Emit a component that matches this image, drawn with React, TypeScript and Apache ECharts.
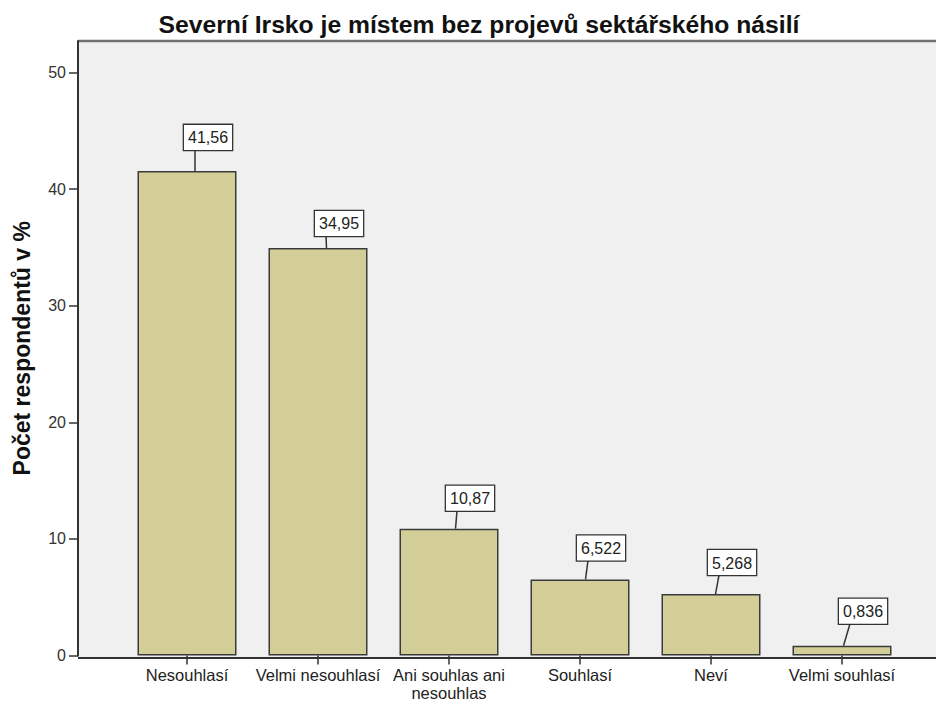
import React, { useEffect, useRef } from "react";
import * as echarts from "echarts";

const categories = [
  "Nesouhlasí",
  "Velmi nesouhlasí",
  "Ani souhlas ani\nnesouhlas",
  "Souhlasí",
  "Neví",
  "Velmi souhlasí",
];
const values = [41.56, 34.95, 10.87, 6.522, 5.268, 0.836];
const yTicks = [0, 10, 20, 30, 40, 50];

// label callout layout (pixels, relative to each bar's top centre)
const labelGap = [21, 12, 18, 19, 19, 22];
const lineFootShift = [8, 8.5, 6.5, 5.5, 4.5, 1.5];
const lineHeadShift = 8;
const boxShift = 21;

const FONT = '"Liberation Sans", Arial, Helvetica, sans-serif';
const fmt = (v: number) => String(v).replace(".", ",");

export default function App() {
  const ref = useRef<HTMLDivElement>(null);
  useEffect(() => {
    if (!ref.current) return;
    const chart = echarts.init(ref.current, undefined, { renderer: "svg" });
    chart.setOption({
      animation: false,
      backgroundColor: "#ffffff",
      textStyle: { fontFamily: FONT },
      title: {
        text: "Severní Irsko je místem bez projevů sektářského násilí",
        left: 474,
        top: 7,
        textAlign: "center",
        textStyle: { fontSize: 24.7, fontWeight: "bold", color: "#111", fontFamily: FONT },
      },
      graphic: [
        {
          type: "rect",
          z: -1,
          shape: { x: 78, y: 41, width: 858, height: 617 },
          style: { fill: "#f0f0f0" },
        },
        {
          type: "line",
          shape: { x1: 78, y1: 41, x2: 936, y2: 41 },
          style: { stroke: "#707070", lineWidth: 2.5 },
        },
        {
          type: "line",
          shape: { x1: 78, y1: 658, x2: 936, y2: 658 },
          style: { stroke: "#333", lineWidth: 2 },
        },
      ],
      grid: { left: 121.5, right: 28.5, top: 41, bottom: 44, containLabel: false },
      xAxis: {
        type: "category",
        data: categories,
        axisLine: { show: false },
        axisTick: { show: true, alignWithLabel: true, length: 9, lineStyle: { color: "#333", width: 1.5 } },
        axisLabel: { interval: 0, fontSize: 16.5, color: "#222", margin: 10.5, lineHeight: 18, fontFamily: FONT },
        splitLine: { show: false },
      },
      yAxis: {
        type: "value",
        min: 0,
        max: 52.7,
        interval: 10,
        offset: 43.5,
        name: "Počet respondentů v %",
        nameLocation: "middle",
        nameGap: 45,
        nameTextStyle: { fontSize: 23, fontWeight: "bold", color: "#111", fontFamily: FONT },
        axisLine: { show: true, lineStyle: { color: "#333", width: 2 } },
        axisTick: { show: true, length: 9, customValues: yTicks, lineStyle: { color: "#333", width: 1.5 } },
        axisLabel: {
          customValues: yTicks,
          fontSize: 16,
          color: "#333",
          margin: 12,
          fontFamily: FONT,
          formatter: (v: number) => (v % 10 === 0 ? String(v) : ""),
        },
        splitLine: { show: false },
      },
      series: [
        {
          type: "bar",
          data: values,
          barWidth: 99,
          itemStyle: { color: "#d3ce98", borderColor: "#3a3a3a", borderWidth: 1.5 },
        },
        {
          type: "custom",
          clip: false,
          z: 5,
          data: values.map((v, i) => [i, v]),
          renderItem: (params: any, api: any) => {
            const i = api.value(0);
            const v = api.value(1);
            const [cx, ty] = api.coord([i, v]);
            const by = ty - labelGap[i];
            return {
              type: "group",
              children: [
                {
                  type: "line",
                  shape: { x1: cx + lineFootShift[i], y1: ty, x2: cx + lineHeadShift, y2: by },
                  style: { stroke: "#333", lineWidth: 1.5 },
                },
                {
                  type: "text",
                  x: cx + boxShift,
                  y: by,
                  style: {
                    text: fmt(v),
                    fill: "#222",
                    font: `16px ${FONT}`,
                    align: "center",
                    verticalAlign: "bottom",
                    textAlign: "center",
                    textVerticalAlign: "bottom",
                    backgroundColor: "#ffffff",
                    borderColor: "#333",
                    borderWidth: 1.3,
                    padding: [5, 4, 4, 4],
                  },
                },
              ],
            };
          },
        },
      ],
    });
    return () => chart.dispose();
  }, []);
  return (
    <div
      ref={ref}
      style={{ position: "fixed", left: 0, top: 0, width: 936, height: 702, overflow: "hidden" }}
    />
  );
}
